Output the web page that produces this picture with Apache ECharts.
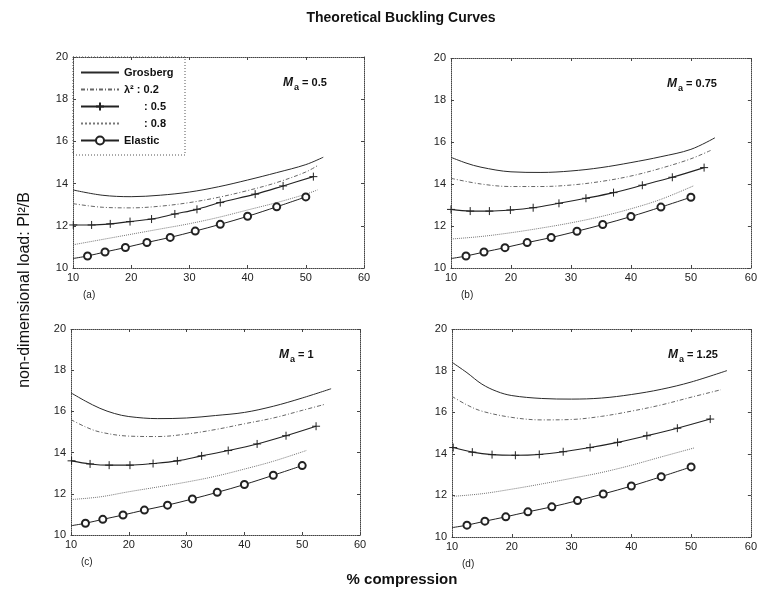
<!DOCTYPE html>
<html>
<head>
<meta charset="utf-8">
<script src="https://cdn.jsdelivr.net/npm/echarts@6/dist/echarts.min.js"></script>
<style>
  html, body { margin: 0; padding: 0; background: #fff; }
  #chart { width: 760px; height: 598px; }
</style>
</head>
<body>
<div id="chart"></div>
<script>
// tick values
var xTicks = [10, 20, 30, 40, 50, 60];
var yTicks = [10, 12, 14, 16, 18, 20];

var seriesNames = ["Grosberg", "λ² : 0.2", ": 0.5", ": 0.8", "Elastic"];
var panelLabels = ["(a)", "(b)", "(c)", "(d)"];
var maValues = ["0.5", "0.75", "1", "1.25"];

// elastic curve, same in every panel
var elasticX = [10, 12.5, 15.5, 19, 22.7, 26.7, 31, 35.3, 40, 45, 50];
var elasticY = [10.45, 10.57, 10.76, 10.97, 11.21, 11.45, 11.75, 12.07, 12.45, 12.9, 13.37];

// (a) Ma = 0.5
var grosAx = [10, 15, 20, 25, 30, 35, 40, 45, 50, 53];
var grosAy = [13.7, 13.45, 13.38, 13.45, 13.6, 13.85, 14.17, 14.52, 14.9, 15.25];
var l02Ax = [10, 15, 20, 25, 30, 35, 40, 45, 50, 52];
var l02Ay = [13.05, 12.88, 12.85, 12.93, 13.1, 13.35, 13.67, 14.05, 14.55, 14.85];
var l05Ax = [10.05, 13.2, 16.4, 19.8, 23.5, 27.5, 31.3, 35.3, 41.3, 46.1, 51.3];
var l05Ay = [12.04, 12.04, 12.09, 12.2, 12.32, 12.56, 12.78, 13.1, 13.5, 13.89, 14.33];
var l08Ax = [10, 15, 20, 25, 30, 35, 40, 45, 50, 52];
var l08Ay = [11.1, 11.35, 11.6, 11.85, 12.1, 12.4, 12.75, 13.1, 13.5, 13.7];

// (b) Ma = 0.75
var grosBx = [10, 12.5, 15, 20, 25, 30, 35, 40, 45, 50, 54];
var grosBy = [15.27, 15.0, 14.8, 14.58, 14.55, 14.62, 14.78, 15.02, 15.3, 15.65, 16.2];
var l02Bx = [10, 15, 20, 25, 30, 35, 40, 45, 50, 53.3];
var l02By = [14.27, 14.0, 13.88, 13.88, 13.95, 14.12, 14.38, 14.75, 15.2, 15.6];
var l05Bx = [10, 13.2, 16.4, 19.9, 23.7, 28.0, 32.5, 37.1, 41.9, 46.9, 52.2];
var l05By = [12.79, 12.71, 12.71, 12.76, 12.87, 13.08, 13.32, 13.59, 13.94, 14.32, 14.78];
var l08Bx = [10, 15, 20, 25, 30, 35, 40, 45, 50.5];
var l08By = [11.38, 11.5, 11.68, 11.9, 12.15, 12.45, 12.82, 13.27, 13.92];

// (c) Ma = 1
var grosCx = [10, 12.5, 15, 17.5, 20, 25, 30, 35, 40, 45, 50, 55];
var grosCy = [16.9, 16.5, 16.15, 15.9, 15.75, 15.65, 15.68, 15.8, 15.95, 16.25, 16.65, 17.1];
var l02Cx = [10, 12.5, 15, 20, 25, 30, 35, 40, 45, 50, 54];
var l02Cy = [15.6, 15.25, 15.0, 14.8, 14.78, 14.9, 15.12, 15.4, 15.68, 16.05, 16.35];
var l05Cx = [10.1, 13.3, 16.6, 20.2, 24.2, 28.4, 32.6, 37.2, 42.2, 47.2, 52.4];
var l05Cy = [13.6, 13.45, 13.39, 13.39, 13.47, 13.6, 13.84, 14.1, 14.42, 14.82, 15.28];
var l08Cx = [10, 15, 20, 25, 30, 35, 40, 45, 50.7];
var l08Cy = [11.72, 11.85, 12.1, 12.33, 12.57, 12.85, 13.2, 13.58, 14.1];

// (d) Ma = 1.25
var grosDx = [10, 12.5, 15, 17.5, 20, 25, 30, 35, 40, 45, 50, 56];
var grosDy = [18.4, 17.9, 17.35, 17.0, 16.8, 16.66, 16.63, 16.68, 16.85, 17.1, 17.45, 18.0];
var l02Dx = [10, 12.5, 15, 20, 25, 30, 35, 40, 45, 50, 55];
var l02Dy = [16.76, 16.35, 16.05, 15.75, 15.63, 15.65, 15.8, 16.05, 16.35, 16.72, 17.08];
var l05Dx = [10.2, 13.4, 16.7, 20.6, 24.6, 28.6, 33.1, 37.7, 42.6, 47.7, 53.2];
var l05Dy = [14.3, 14.08, 13.96, 13.93, 13.97, 14.1, 14.3, 14.55, 14.87, 15.23, 15.67];
var l08Dx = [10, 15, 20, 25, 30, 35, 40, 45, 50.5];
var l08Dy = [11.95, 12.08, 12.3, 12.55, 12.82, 13.1, 13.45, 13.85, 14.28];

var panels = [
    [grosAx, grosAy, l02Ax, l02Ay, l05Ax, l05Ay, l08Ax, l08Ay],
    [grosBx, grosBy, l02Bx, l02By, l05Bx, l05By, l08Bx, l08By],
    [grosCx, grosCy, l02Cx, l02Cy, l05Cx, l05Cy, l08Cx, l08Cy],
    [grosDx, grosDy, l02Dx, l02Dy, l05Dx, l05Dy, l08Dx, l08Dy]
];

// layout of the four plot boxes
var boxes = [
    {left: 73, top: 57, width: 291, height: 211},
    {left: 451, top: 58, width: 301, height: 210},
    {left: 71, top: 329, width: 289, height: 206},
    {left: 452, top: 329, width: 301, height: 208}
];

var FONT = "'Liberation Sans', Arial, sans-serif";
var plusPath = "path://M0,5L10,5M5,0L5,10";

function zip(xs, ys) {
    return xs.map(function (x, i) { return [x, ys[i]]; });
}

var chart = echarts.init(document.getElementById("chart"));

var grids = [], xAxes = [], yAxes = [], series = [], graphics = [];
var dotted = {color: "#444", width: 1, type: "dotted"};

function axis(kind, i, pos, labels) {
    var t = kind === "x" ? xTicks : yTicks;
    return {
        type: "value", gridIndex: i, min: t[0], max: t[t.length - 1], interval: t[1] - t[0],
        position: pos,
        axisLine: {lineStyle: dotted},
        axisTick: {inside: true, length: 3, lineStyle: {color: "#444"}},
        splitLine: {show: false},
        axisLabel: labels ? {fontSize: 11, color: "#222", fontFamily: FONT, margin: kind === "x" ? 4 : 5} : {show: false}
    };
}

boxes.forEach(function (b, i) {
    grids.push({left: b.left, top: b.top, width: b.width, height: b.height});
    xAxes.push(axis("x", i, "bottom", true));
    xAxes.push(axis("x", i, "top", false));
    yAxes.push(axis("y", i, "left", true));
    yAxes.push(axis("y", i, "right", false));

    var p = panels[i];
    var common = {xAxisIndex: 2 * i, yAxisIndex: 2 * i, smooth: 0.35};
    series.push(Object.assign({
        type: "line", name: seriesNames[0], data: zip(p[0], p[1]), symbol: "none",
        lineStyle: {color: "#2a2a2a", width: 1}, itemStyle: {color: "#2a2a2a"}
    }, common));
    series.push(Object.assign({
        type: "line", name: seriesNames[1], data: zip(p[2], p[3]), symbol: "none",
        lineStyle: {color: "#666", width: 1, type: [4, 2, 1, 2]}, itemStyle: {color: "#666"}
    }, common));
    series.push(Object.assign({
        type: "line", name: seriesNames[2], data: zip(p[4], p[5]), symbol: plusPath, symbolSize: 8,
        lineStyle: {color: "#222", width: 1.1},
        itemStyle: {color: "#222", borderColor: "#222", borderWidth: 1}
    }, common));
    series.push(Object.assign({
        type: "line", name: seriesNames[3], data: zip(p[6], p[7]), symbol: "none",
        lineStyle: {color: "#777", width: 1, type: "dotted"}, itemStyle: {color: "#777"}
    }, common));
    var el = zip(elasticX, elasticY).map(function (d, k) {
        return k === 0 ? {value: d, symbol: "none"} : d;
    });
    series.push(Object.assign({
        type: "line", name: seriesNames[4], data: el, symbol: "emptyCircle", symbolSize: 7,
        lineStyle: {color: "#222", width: 1},
        itemStyle: {color: "#222", borderColor: "#222", borderWidth: 0.9}
    }, common));

    // Ma annotation
    graphics.push({
        type: "text",
        left: b.left + b.width - (i % 2 === 0 ? 81 : 85),
        top: b.top + 20,
        style: {
            text: "{m|M}{s|a}{t| = " + maValues[i] + "}",
            rich: {
                m: {fontSize: 12, fontWeight: "bold", fontStyle: "italic", fontFamily: FONT, fill: "#111"},
                s: {fontSize: 9, fontWeight: "bold", fontFamily: FONT, fill: "#111", padding: [9, 0, 0, 1]},
                t: {fontSize: 11, fontWeight: "bold", fontFamily: FONT, fill: "#111"}
            }
        }
    });
    // panel letter
    graphics.push({
        type: "text",
        left: b.left + 10,
        top: b.top + b.height + 22,
        style: {text: panelLabels[i], fontSize: 10, fontFamily: FONT, fill: "#222"}
    });
});

// legend frame
graphics.push({
    type: "rect",
    shape: {x: 73, y: 57, width: 112, height: 98},
    style: {fill: "#fff", stroke: "#555", lineWidth: 1, lineDash: [1, 2]},
    z: 0
});

// y-axis name
graphics.push({
    type: "text",
    x: 25, y: 290,
    rotation: Math.PI / 2,
    style: {
        text: "non-dimensional load: Pl²/B",
        fontSize: 16, fontFamily: FONT, fill: "#111",
        textAlign: "center", textVerticalAlign: "middle"
    }
});
// x-axis name
graphics.push({
    type: "text",
    x: 402, y: 580,
    style: {
        text: "% compression",
        fontSize: 15, fontWeight: "bold", fontFamily: FONT, fill: "#111",
        textAlign: "center", textVerticalAlign: "middle"
    }
});
// main title, centred over the plots rather than the canvas
graphics.push({
    type: "text",
    x: 401, y: 18,
    style: {
        text: "Theoretical Buckling Curves",
        fontSize: 14, fontWeight: "bold", fontFamily: FONT, fill: "#111",
        textAlign: "center", textVerticalAlign: "middle"
    }
});

var legendData = seriesNames.map(function (n, k) {
    // only the 0.5 and Elastic curves carry markers
    return (k === 2 || k === 4) ? {name: n} : {name: n, itemStyle: {opacity: 0}};
});

chart.setOption({
    animation: false,
    backgroundColor: "#fff",
    legend: {
        data: legendData,
        orient: "vertical",
        left: 75, top: 62,
        itemWidth: 38, itemHeight: 10, itemGap: 6,
        textStyle: {
            fontSize: 11, fontWeight: "bold", color: "#111", fontFamily: FONT,
            rich: {pad: {width: 20}}
        },
        formatter: function (n) {
            return (n === ": 0.5" || n === ": 0.8") ? "{pad|}" + n : n;
        }
    },
    grid: grids,
    xAxis: xAxes,
    yAxis: yAxes,
    series: series,
    graphic: graphics
});
</script>
</body>
</html>
